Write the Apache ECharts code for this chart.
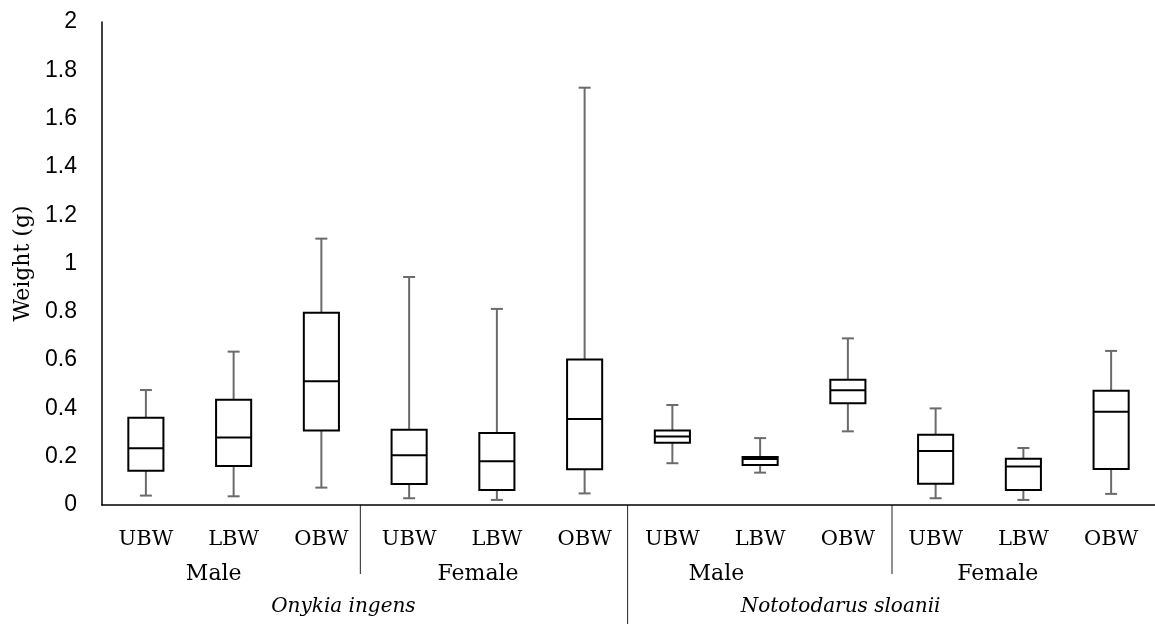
<!DOCTYPE html>
<html>
<head>
<meta charset="utf-8">
<script src="https://cdn.jsdelivr.net/npm/echarts@6/dist/echarts.min.js"></script>
<style>html,body{margin:0;padding:0;background:#fff;}#c{width:1155px;height:624px;}</style>
</head>
<body>
<div id="c"></div>
<script>
// ---- data ----
const categories = ['UBW','LBW','OBW','UBW','LBW','OBW','UBW','LBW','OBW','UBW','LBW','OBW'];
const sexLabels = ['Male','Female','Male','Female'];
const speciesLabels = ['Onykia ingens','Nototodarus sloanii'];
const mins    = [0.039,0.036,0.072,0.028,0.021,0.048,0.173,0.134,0.305,0.028,0.021,0.046];
const q1s     = [0.142,0.161,0.308,0.087,0.062,0.148,0.258,0.166,0.421,0.088,0.062,0.149];
const medians = [0.235,0.280,0.512,0.206,0.181,0.356,0.284,0.190,0.475,0.224,0.159,0.386];
const q3s     = [0.361,0.436,0.796,0.312,0.298,0.603,0.309,0.199,0.519,0.291,0.192,0.473];
const maxs    = [0.476,0.635,1.103,0.944,0.812,1.728,0.414,0.277,0.690,0.400,0.236,0.638];
const yTicks  = { min: 0, max: 2, interval: 0.2 };

const boxData = categories.map((c, i) => [i, mins[i], q1s[i], medians[i], q3s[i], maxs[i]]);

const chart = echarts.init(document.getElementById('c'));
const SERIF = '"DejaVu Serif", serif';
const WHISKER = '#6b6b6b';

function renderBox(params, api) {
  const x = api.value(0);
  const p = v => api.coord([x, v]);
  const bw = api.size([1, 0])[0] * 0.4;
  const cw = 12;
  const pMin = p(api.value(1)), pQ1 = p(api.value(2)), pMed = p(api.value(3)),
        pQ3 = p(api.value(4)), pMax = p(api.value(5));
  const cx = pMed[0];
  const ws = { stroke: WHISKER, lineWidth: 2 };
  return {
    type: 'group',
    children: [
      { type: 'line', shape: { x1: cx, y1: pQ3[1], x2: cx, y2: pMax[1] }, style: ws },
      { type: 'line', shape: { x1: cx, y1: pQ1[1], x2: cx, y2: pMin[1] }, style: ws },
      { type: 'line', shape: { x1: cx - cw / 2, y1: pMax[1], x2: cx + cw / 2, y2: pMax[1] }, style: ws },
      { type: 'line', shape: { x1: cx - cw / 2, y1: pMin[1], x2: cx + cw / 2, y2: pMin[1] }, style: ws },
      { type: 'rect', shape: { x: cx - bw / 2, y: pQ3[1], width: bw, height: pQ1[1] - pQ3[1] },
        style: { fill: '#fff', stroke: '#000', lineWidth: 2 } },
      { type: 'line', shape: { x1: cx - bw / 2, y1: pMed[1], x2: cx + bw / 2, y2: pMed[1] },
        style: { stroke: '#000', lineWidth: 2 } }
    ]
  };
}

chart.setOption({
  animation: false,
  backgroundColor: '#fff',
  grid: { left: 102, top: 22, width: 1056, height: 483 },
  xAxis: {
    type: 'category',
    data: categories,
    axisLine: { lineStyle: { color: '#000', width: 1.5 } },
    axisTick: { show: false },
    axisLabel: { interval: 0, margin: 35, verticalAlign: 'middle', color: '#000', fontFamily: SERIF, fontSize: 21 },
    splitLine: { show: false }
  },
  yAxis: {
    type: 'value',
    min: yTicks.min, max: yTicks.max, interval: yTicks.interval,
    name: 'Weight (g)',
    nameLocation: 'middle',
    nameGap: 66,
    nameTextStyle: { color: '#000', fontFamily: SERIF, fontSize: 22 },
    axisLine: { show: true, lineStyle: { color: '#000', width: 1.5 } },
    axisTick: { show: false },
    splitLine: { show: false },
    axisLabel: { margin: 25, color: '#000', fontFamily: '"Liberation Sans", Arial, sans-serif', fontSize: 23 }
  },
  series: [{
    type: 'custom',
    renderItem: renderBox,
    encode: { x: 0, y: [1, 2, 3, 4, 5] },
    data: boxData,
    z: 5
  }]
});

// group labels and separators positioned through the category axis
const c0 = chart.convertToPixel({ xAxisIndex: 0 }, 0);
const c1 = chart.convertToPixel({ xAxisIndex: 0 }, 1);
const step = c1 - c0;
const px = u => c0 + u * step;
const axisY = chart.convertToPixel({ yAxisIndex: 0 }, 0);

const sexPos = [0.773, 3.785, 6.502, 9.708];
const speciesPos = [2.251, 7.917];
const sepShort = [2.444, 8.503];
const sepLong = [5.49];

const graphics = [];
sexLabels.forEach((t, i) => graphics.push({
  type: 'text', x: px(sexPos[i]), y: 574,
  style: { text: t, font: '22px ' + SERIF, fill: '#000', textAlign: 'center', textVerticalAlign: 'middle' }
}));
speciesLabels.forEach((t, i) => graphics.push({
  type: 'text', x: px(speciesPos[i]), y: 607,
  style: { text: t, font: 'italic 20px ' + SERIF, fill: '#000', textAlign: 'center', textVerticalAlign: 'middle' }
}));
sepShort.forEach(u => graphics.push({
  type: 'line', shape: { x1: px(u), y1: axisY, x2: px(u), y2: 574 }, style: { stroke: '#222', lineWidth: 1 }
}));
sepLong.forEach(u => graphics.push({
  type: 'line', shape: { x1: px(u), y1: axisY, x2: px(u), y2: 624 }, style: { stroke: '#222', lineWidth: 1 }
}));
chart.setOption({ graphic: graphics });
</script>
</body>
</html>
